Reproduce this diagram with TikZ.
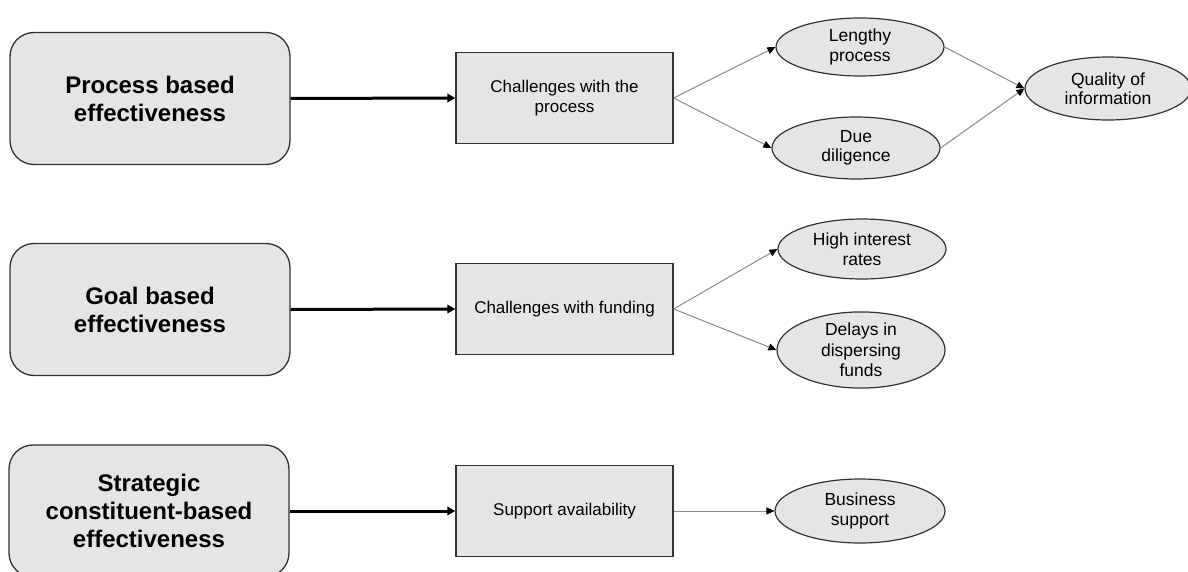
\documentclass[tikz,border=0pt]{standalone}
\usepackage{fontspec}
\setmainfont{Liberation Sans}
\usetikzlibrary{shapes.geometric,arrows.meta}
\definecolor{boxfill}{HTML}{E5E5E5}
\definecolor{boxline}{HTML}{333333}
\definecolor{thinline}{HTML}{8A8A8A}
\tikzset{
  mainbox/.style={draw=boxline, line width=1.3pt, fill=boxfill, rounded corners=24pt,
    minimum width=280pt, minimum height=132pt, inner sep=0pt, align=center,
    font=\fontsize{24}{28}\selectfont\bfseries},
  midbox/.style={draw=boxline, line width=1.3pt, fill=boxfill,
    minimum width=217pt, minimum height=91pt, inner sep=0pt, align=center,
    font=\fontsize{17}{20}\selectfont},
  oval/.style={ellipse, draw=boxline, line width=1.2pt, fill=boxfill,
    minimum width=168pt, minimum height=62pt, inner sep=0pt, align=center,
    font=\fontsize{17.5}{19.5}\selectfont},
  thickarrow/.style={line width=3pt, black, -{Triangle[length=8pt,width=8.5pt]}},
  thinarrow/.style={line width=1pt, thinline, -{Triangle[length=8pt,width=7pt,color=black]}},
}
\begin{document}
\begin{tikzpicture}[x=1pt,y=-1pt]
\useasboundingbox (0,0) rectangle (1188,572);
% left boxes
\node[mainbox] (b1) at (150,98.5) {Process based\\effectiveness};
\node[mainbox] (b2) at (150,309.5) {Goal based\\effectiveness};
\node[mainbox] (b3) at (149,511) {Strategic\\constituent-based\\effectiveness};
% middle boxes
\node[midbox] (m1) at (564.5,98) {Challenges with the\\process};
\node[midbox] (m2) at (564.5,309) {Challenges with funding};
\node[midbox] (m3) at (564.5,511) {Support availability};
% ellipses
\node[oval, minimum height=58pt] (e1) at (860,47) {Lengthy\\process};
\node[oval] (e2) at (856,148) {Due\\diligence};
\node[oval, minimum width=166pt, minimum height=63pt] (q) at (1108,88.5) {Quality of\\information};
\node[oval, minimum height=60pt] (e3) at (862,249) {High interest\\rates};
\node[oval, minimum height=64pt, font=\fontsize{17.5}{20.5}\selectfont] (e4) at (861,350) {Delays in\\dispersing\\funds};
\node[oval, minimum width=170pt, minimum height=64pt] (e5) at (860,511) {Business\\support};
% thick arrows
\draw[thickarrow] (b1.east) -- (m1.west);
\draw[thickarrow] (b2.east) -- (m2.west);
\draw[thickarrow] (b3.east) -- (m3.west);
% thin arrows
\draw[thinarrow] (m1.east) -- (e1.west);
\draw[thinarrow] (m1.east) -- (e2.west);
\draw[thinarrow] (e1.east) -- (q.west);
\draw[thinarrow] (e2.east) -- (q.west);
\draw[thinarrow] (m2.east) -- (e3.west);
\draw[thinarrow] (m2.east) -- (e4.west);
\draw[thinarrow] (m3.east) -- (e5.west);
\end{tikzpicture}
\end{document}
